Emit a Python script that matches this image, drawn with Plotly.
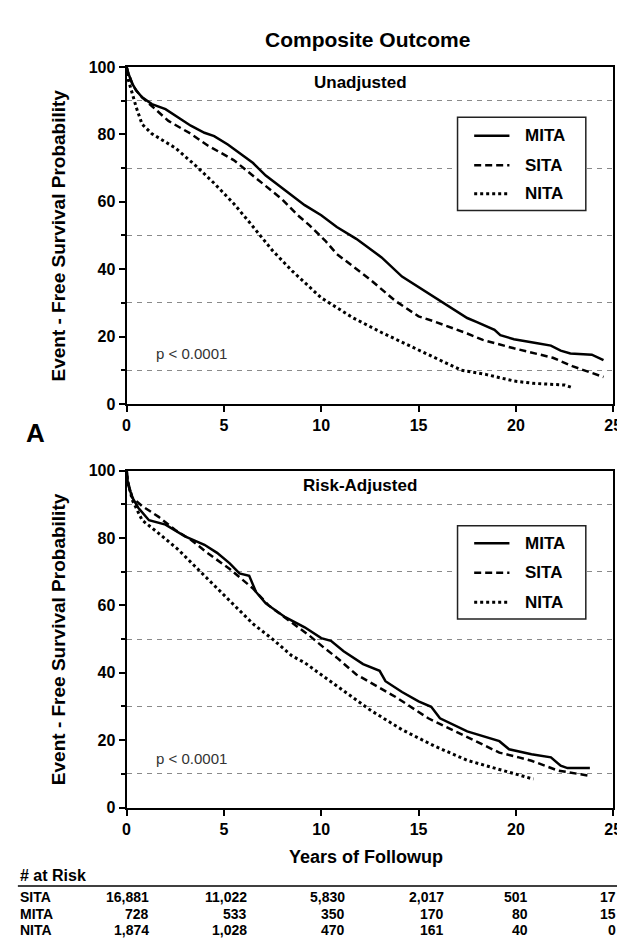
import plotly.graph_objects as go

# ---------------- data ----------------
series_names = ["MITA", "SITA", "NITA"]

# Panel A - Unadjusted
un_mita_x = [0, 0.1, 0.3, 0.5, 0.8, 1.3, 2.0, 2.7, 3.3, 4.0, 4.5, 5.2, 5.8, 6.5, 7.15, 8.15, 9.15, 10.0, 10.8, 11.8, 12.6, 13.1, 14.15, 15.3, 16.0, 16.8, 17.5, 18.0, 18.9, 19.2, 19.9, 21.1, 21.8, 22.3, 22.8, 23.9, 24.3, 24.5]
un_mita_y = [100, 98, 95, 93, 91, 89, 87.5, 85, 82.6, 80.5, 79.5, 77, 74.5, 71.5, 67.8, 63.5, 59, 56, 52.5, 49, 45.5, 43.5, 37.8, 33.5, 31, 28, 25.5, 24.3, 22, 20.4, 19.2, 18, 17.3, 15.8, 15, 14.6, 13.5, 13]
un_sita_x = [0, 0.1, 0.3, 0.5, 0.8, 1.3, 2.15, 3.3, 4.15, 5.5, 6.65, 8.0, 8.8, 9.4, 10.2, 10.8, 12.5, 13.8, 15.0, 15.8, 17.5, 18.3, 19.9, 21.9, 22.9, 23.9, 24.3, 24.5]
un_sita_y = [100, 98, 95, 93, 91, 88.4, 84, 80.2, 76.8, 72.4, 67.1, 60.7, 56, 53, 48.5, 44.5, 37, 30.6, 26, 24.5, 20.9, 19, 16.5, 13.7, 11.2, 9.3, 8.5, 8]
un_nita_x = [0, 0.1, 0.3, 0.5, 0.8, 1.3, 2.5, 3.5, 4.5, 5.5, 6.3, 7.0, 7.5, 8.5, 10.0, 11.65, 13.1, 15.0, 16.6, 17.2, 18.5, 19.9, 20.9, 22.5, 22.7, 22.9]
un_nita_y = [100, 96, 92, 88, 83, 80.2, 76, 71, 65.5, 59.5, 54, 49, 45.5, 39.5, 31.5, 25.5, 21.2, 16, 11.5, 10, 8.7, 6.8, 6.1, 5.6, 5.2, 4.8]

# Panel B - Risk-Adjusted
ra_mita_x = [0, 0.07, 0.3, 0.6, 1.15, 2.0, 3.0, 4.0, 4.65, 5.3, 5.8, 6.3, 6.65, 7.15, 8.15, 9.15, 10.0, 10.5, 11.15, 12.15, 13.0, 13.3, 14.15, 15.0, 15.65, 16.1, 17.5, 19.15, 19.65, 20.8, 21.8, 22.3, 22.65, 23.8]
ra_mita_y = [100, 96, 92, 89, 85.3, 84, 80.5, 78, 75.6, 72.5, 69.5, 68.8, 64, 60.6, 56.5, 53.5, 50.3, 49.5, 46.4, 42.6, 40.6, 37.5, 34.3, 31.5, 29.9, 26.5, 22.6, 19.7, 17.3, 15.8, 14.9, 12.4, 11.7, 11.7]
ra_sita_x = [0, 0.1, 0.3, 0.8, 1.65, 2.5, 3.3, 4.15, 5.3, 6.5, 7.3, 8.5, 9.4, 10.15, 10.8, 11.8, 13.8, 15.5, 17.5, 19.15, 20.15, 20.8, 22.15, 23.65, 23.8]
ra_sita_y = [100, 96, 92, 89.5, 86.3, 82.4, 79.5, 75.6, 70.8, 65, 60, 55, 51, 47.4, 44.5, 39.5, 32.9, 26.5, 21, 16.3, 14.9, 13.9, 11, 9.7, 9.4]
ra_nita_x = [0, 0.05, 0.3, 0.8, 1.65, 2.65, 3.5, 4.5, 5.5, 6.5, 7.5, 8.5, 9.15, 10.8, 12.5, 14.15, 15.8, 17.5, 19.15, 20.15, 20.8, 20.9]
ra_nita_y = [100, 97, 91.2, 85.3, 81.4, 76.6, 71.7, 65.9, 60, 54.5, 50, 45, 43, 36.2, 29, 23.1, 18.3, 14, 11.2, 9.5, 8.6, 8.5]

x_ticks = [0, 5, 10, 15, 20, 25]
y_ticks = [0, 20, 40, 60, 80, 100]
y_grid = [10, 30, 50, 70, 90]

# number at risk table
risk_rows = ["SITA", "MITA", "NITA"]
risk_sita = ["16,881", "11,022", "5,830", "2,017", "501", "17"]
risk_mita = ["728", "533", "350", "170", "80", "15"]
risk_nita = ["1,874", "1,028", "470", "161", "40", "0"]

# ---------------- figure ----------------
W, H = 625, 947
def px(x):
    return x / W
def py(y):
    return 1 - y / H

FONT = "Liberation Sans, Arial, sans-serif"
styles = {
    "MITA": dict(color="black", width=2.5, dash="solid"),
    "SITA": dict(color="black", width=2.5, dash="7px,4px"),
    "NITA": dict(color="black", width=3, dash="3px,3px"),
}

fig = go.Figure()
panels = [
    ("x", "y", [(un_mita_x, un_mita_y), (un_sita_x, un_sita_y), (un_nita_x, un_nita_y)]),
    ("x2", "y2", [(ra_mita_x, ra_mita_y), (ra_sita_x, ra_sita_y), (ra_nita_x, ra_nita_y)]),
]
for xa, ya, data in panels:
    for name, (xs, ys) in zip(series_names, data):
        fig.add_trace(go.Scatter(
            x=xs, y=ys, mode="lines", name=name, line=styles[name],
            xaxis=xa, yaxis=ya, showlegend=False,
        ))

xdom = [px(117), px(614)]
bold = dict(family=FONT, color="black", weight="bold")

def xaxis_cfg(anchor):
    return dict(domain=xdom, anchor=anchor, range=[0, 25], tickvals=x_ticks,
                ticks="outside", ticklen=6, tickwidth=1.5, tickcolor="black",
                showline=True, linecolor="black", linewidth=2, mirror=True,
                showgrid=False, zeroline=False, tickfont=dict(**bold, size=16))

def yaxis_cfg(anchor, dom):
    return dict(domain=dom, anchor=anchor, range=[0, 100], tickvals=y_ticks,
                ticks="outside", ticklen=6, tickwidth=1.5, tickcolor="black",
                showline=True, linecolor="black", linewidth=2, mirror=True,
                showgrid=False, zeroline=False, tickfont=dict(**bold, size=16),
                minor=dict(tickvals=y_grid, ticks="outside", ticklen=4, tickcolor="black",
                           showgrid=True, gridcolor="#8a8a8a", griddash="5px,5px", gridwidth=1))

fig.update_layout(
    width=W, height=H, margin=dict(l=0, r=0, t=0, b=0),
    paper_bgcolor="white", plot_bgcolor="white", showlegend=False,
    xaxis=xaxis_cfg("y"), yaxis=yaxis_cfg("x", [py(395), py(52)]),
    xaxis2=xaxis_cfg("y2"), yaxis2=yaxis_cfg("x2", [py(806), py(463)]),
)

ann = []
def add(text, x, y, size, xanchor="center", weight="bold", color="black", **kw):
    ann.append(dict(text=text, x=x, y=y, xref=kw.pop("xref", "paper"), yref=kw.pop("yref", "paper"),
                    showarrow=False, xanchor=xanchor, yanchor="middle",
                    font=dict(family=FONT, size=size, color=color, weight=weight), **kw))

add("Composite Outcome", px(363), py(24), 21)
add("Unadjusted", 12, 95.3, 17, xref="x", yref="y")
add("Risk-Adjusted", 12, 95.6, 17, xref="x2", yref="y2")
add("p < 0.0001", 1.4, 15, 15, xanchor="left", weight="normal", color="#333333", xref="x", yref="y")
add("p < 0.0001", 1.4, 14.5, 15, xanchor="left", weight="normal", color="#333333", xref="x2", yref="y2")
add("Event - Free Survival Probability", px(47), py(223.5), 19, textangle=-90)
add("Event - Free Survival Probability", px(47), py(634.5), 19, textangle=-90)
add("A", px(12), py(425), 26, xanchor="left")
add("Years of Followup", px(362), py(856), 18)
add("# at Risk", px(6), py(875), 16, xanchor="left")

col_right = [142, 242, 342, 443, 529, 619]
row_y = [897, 914, 931]
for label, vals, yy in zip(risk_rows, [risk_sita, risk_mita, risk_nita], row_y):
    add(label, px(6), py(yy), 14, xanchor="left")
    for v, xr in zip(vals, col_right):
        add(v, px(xr), py(yy), 14, xanchor="right")

# manual legends (box, line samples, labels)
shapes = [dict(type="line", xref="paper", yref="paper", x0=px(6), x1=px(620), y0=py(886), y1=py(886),
               line=dict(color="black", width=1.5))]
legend_boxes = [(103, 198, [122, 152, 181]), (519, 614, [537, 567, 597])]
for top, bottom, rows in legend_boxes:
    shapes.append(dict(type="rect", xref="paper", yref="paper", x0=px(455), x1=px(586),
                       y0=py(bottom), y1=py(top), line=dict(color="#222222", width=1.5),
                       fillcolor="white", layer="above"))
    for name, ry in zip(series_names, rows):
        shapes.append(dict(type="line", xref="paper", yref="paper", x0=px(472), x1=px(508),
                           y0=py(ry), y1=py(ry), line=styles[name], layer="above"))
        add(name, px(522), py(ry), 17, xanchor="left")

fig.update_layout(annotations=ann, shapes=shapes)
fig.write_html("out.html")
